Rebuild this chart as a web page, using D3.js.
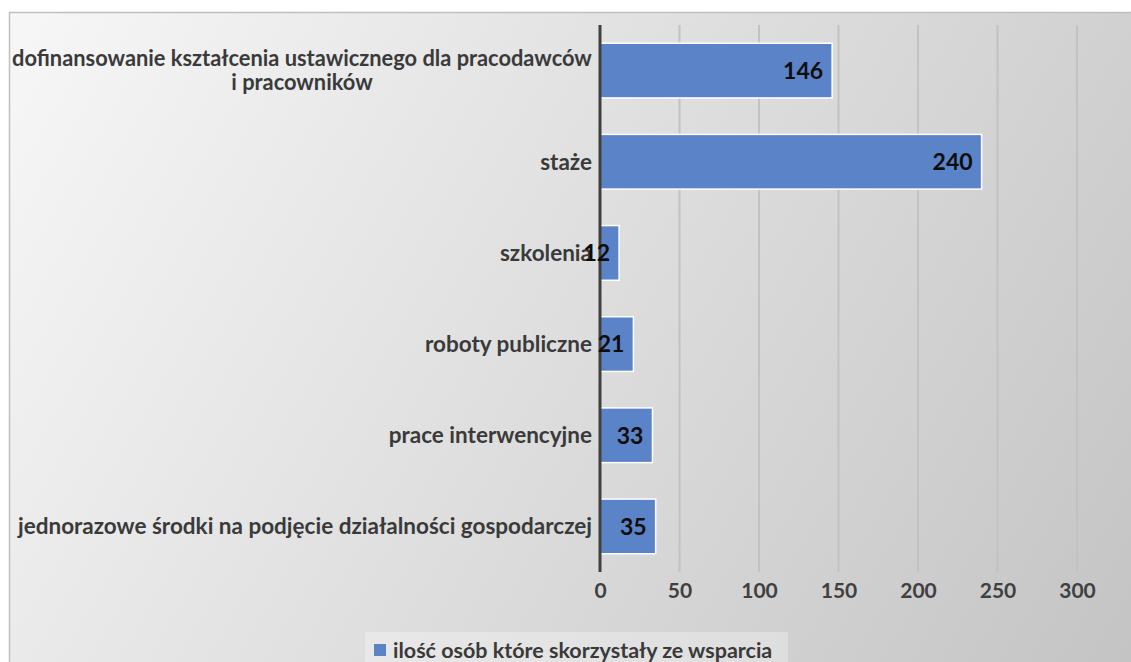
<!doctype html>
<html lang="pl">
<head>
<meta charset="utf-8">
<title>Formy wsparcia</title>
<script src="https://cdn.jsdelivr.net/npm/d3@7"></script>
<style>
  body { margin: 0; background: #fff; }
  svg { display: block; font-family: Lato, "Noto Sans", sans-serif; }
</style>
</head>
<body>
<svg width="1131" height="662"></svg>
<script>
// data ("\n" marks the label's line break)
const categories = [
  "dofinansowanie kształcenia ustawicznego dla pracodawców\ni pracowników",
  "staże",
  "szkolenia",
  "roboty publiczne",
  "prace interwencyjne",
  "jednorazowe środki na podjęcie działalności gospodarczej"
];
const values = [146, 240, 12, 21, 33, 35];
const xTicks = [0, 50, 100, 150, 200, 250, 300];
const seriesName = "ilość osób które skorzystały ze wsparcia";

var width = 1131, height = 662;
var svg = d3.select("svg");

// background gradient of the chart area
var defs = svg.append("defs");
var grad = defs.append("linearGradient").attr("id", "bg")
  .attr("gradientUnits", "userSpaceOnUse")
  .attr("x1", 9).attr("y1", 12).attr("x2", 1131).attr("y2", 662);
grad.append("stop").attr("offset", "0%").attr("stop-color", "#f7f7f7");
grad.append("stop").attr("offset", "100%").attr("stop-color", "#c4c4c4");

svg.append("rect").attr("x", 9.5).attr("y", 12.5)
  .attr("width", width + 20).attr("height", height + 20)
  .attr("fill", "url(#bg)").attr("stroke", "#bfbfbf").attr("stroke-width", 1.5);

var x = d3.scaleLinear().domain([0, 300]).range([600, 1077]);
var y = d3.scaleBand().domain(categories).range([25, 572])
  .paddingInner(0.4).paddingOuter(0.2);

// gridlines
svg.append("g").selectAll("line").data(xTicks.slice(1)).enter().append("line")
  .attr("x1", d => x(d)).attr("x2", d => x(d))
  .attr("y1", 25).attr("y2", 572)
  .attr("stroke", "#c2c2c2").attr("stroke-width", 2);

// bars
svg.append("g").selectAll("rect").data(values).enter().append("rect")
  .attr("x", x(0))
  .attr("y", (d, i) => y(categories[i]))
  .attr("width", d => x(d) - x(0))
  .attr("height", y.bandwidth())
  .attr("fill", "#5a83c8")
  .attr("stroke", "#ffffff").attr("stroke-width", 1.5);

// vertical axis line
svg.append("line").attr("x1", x(0)).attr("x2", x(0)).attr("y1", 25).attr("y2", 572)
  .attr("stroke", "#404040").attr("stroke-width", 3);

// x axis tick labels
var xAxis = svg.append("g").attr("transform", "translate(0,572)")
  .call(d3.axisBottom(x).tickValues(xTicks).tickSize(0).tickPadding(11));
xAxis.select(".domain").remove();
xAxis.selectAll("text").attr("font-family", "Lato, sans-serif")
  .attr("font-size", 21).attr("font-weight", 700).attr("fill", "#404040");

// category labels
var labelRight = 592;
var room = 580;
categories.forEach(function(c, i) {
  var lines = c.split("\n");
  var fs = 22.5;
  var t = svg.append("text")
    .attr("font-size", fs).attr("font-weight", 700).attr("fill", "#3a3a3a");
  var cy = y(c) + y.bandwidth() / 2;
  var lh = 24;
  if (lines.length == 1) {
    t.attr("text-anchor", "end").attr("x", labelRight).attr("y", cy).attr("dy", "0.35em").text(lines[0]);
  } else {
    var widths = [];
    lines.forEach(function(l) {
      var s = t.append("tspan").text(l);
      widths.push(s.node().getComputedTextLength());
    });
    var w0 = d3.max(widths);
    if (w0 > room) { t.attr("font-size", fs * room / w0); w0 = room; }
    t.attr("text-anchor", "middle");
    t.selectAll("tspan")
      .attr("x", labelRight - w0 / 2)
      .attr("y", (d, j) => cy + (j - (lines.length - 1) / 2) * lh)
      .attr("dy", "0.35em");
  }
});

// value labels, inside end
svg.append("g").selectAll("text").data(values).enter().append("text")
  .attr("x", d => x(d) - 9)
  .attr("y", (d, i) => y(categories[i]) + y.bandwidth() / 2)
  .attr("dy", "0.36em")
  .attr("text-anchor", "end")
  .attr("font-size", 23).attr("font-weight", 700).attr("fill", "#0d0d0d")
  .text(d => d);

// legend
var lg = svg.append("g");
lg.append("rect").attr("x", 365).attr("y", 632).attr("width", 423).attr("height", 40)
  .attr("fill", "#ffffff").attr("opacity", 0.3);
lg.append("rect").attr("x", 374).attr("y", 644).attr("width", 12).attr("height", 12)
  .attr("fill", "#5a83c8");
lg.append("text").attr("x", 393).attr("y", 650).attr("dy", "0.35em")
  .attr("font-size", 21.5).attr("font-weight", 700).attr("fill", "#3a3a3a")
  .text(seriesName);
</script>
</body>
</html>
